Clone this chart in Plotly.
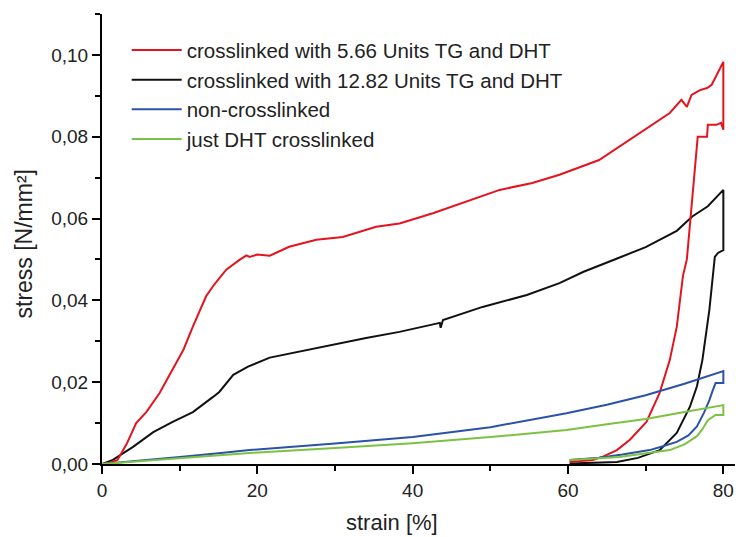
import plotly.graph_objects as go

# ---- data ----
red_x = [0, 1.0, 2.0, 3.2, 4.4, 5.7, 7.4, 9.1, 10.5, 11.7, 13.4, 14.5, 16.0, 17.7, 18.6, 19.0, 20.0, 21.6, 24.1, 27.6, 31.0,
         35.3, 38.3, 42.6, 46.9, 51.2, 55.4, 58.9, 64.0, 68.3, 70.5, 73.1, 74.6, 75.3, 75.9, 77.0, 77.9, 78.5, 80.0,
         80.0, 79.7, 79.1, 78.0, 77.9, 76.7, 76.0, 75.3, 74.8, 74.0, 73.1, 71.8, 70.1, 68.0, 66.3, 64.5, 63.2, 61.0, 60.2]
red_y = [0, 0.0003, 0.001, 0.005, 0.010, 0.0127, 0.0173, 0.023, 0.028, 0.0336, 0.041, 0.044, 0.0475, 0.0499, 0.051, 0.0506, 0.0512, 0.0509, 0.0531, 0.0548, 0.0555,
         0.058, 0.0588, 0.0613, 0.0641, 0.067, 0.0687, 0.0707, 0.0743, 0.0797, 0.0825, 0.0858, 0.089, 0.0873, 0.0902, 0.0914, 0.0919, 0.0927, 0.0983,
         0.0817, 0.0834, 0.0829, 0.0829, 0.080, 0.080, 0.065, 0.050, 0.046, 0.0335, 0.0254, 0.0174, 0.0103, 0.006, 0.0034, 0.0018, 0.001, 0.0006, 0.0005]

black_x = [0, 1.4, 4.0, 6.6, 9.1, 11.7, 14.3, 15.1, 16.9, 18.8, 21.6, 27.6, 34.0, 38.3, 43.5, 43.6, 43.9, 49.0, 54.7, 58.9,
           62.0, 66.0, 70.0, 74.0, 76.0, 78.0, 80.0,
           80.0, 79.3, 78.9, 78.6, 78.2, 77.3, 76.6, 75.7, 74.0, 71.8, 69.0, 66.3, 63.0, 60.2]
black_y = [0, 0.001, 0.0042, 0.0078, 0.0103, 0.0127, 0.0164, 0.0176, 0.0218, 0.0238, 0.026, 0.0284, 0.0308, 0.0323, 0.0345, 0.0333, 0.0352, 0.0384, 0.0413, 0.0442,
           0.047, 0.050, 0.053, 0.057, 0.0605, 0.063, 0.067,
           0.0523, 0.0516, 0.0506, 0.045, 0.0377, 0.0254, 0.019, 0.014, 0.0076, 0.0034, 0.0015, 0.0005, 0.0002, 0.0001]

blue_x = [0, 5, 10, 15, 19, 30, 40, 50, 59.8, 65, 70, 75, 80,
          80, 79.0, 78.6, 78.2, 77.5, 76.6, 75.5, 74.0, 72.0, 70.5, 67.0, 64.0, 60.2]
blue_y = [0, 0.0008, 0.0017, 0.0026, 0.0034, 0.005, 0.0066, 0.009, 0.0124, 0.0145, 0.0168, 0.0196, 0.0227,
          0.0198, 0.0198, 0.0178, 0.0156, 0.0125, 0.0092, 0.0070, 0.0054, 0.0042, 0.0034, 0.0023, 0.0015, 0.001]

green_x = [0, 5, 10, 15, 19, 30, 40, 50, 59.8, 65, 70, 75, 80,
           80, 79.0, 78.0, 77.3, 76.6, 75.0, 73.1, 70.0, 66.6, 60.2]
green_y = [0, 0.0007, 0.0014, 0.002, 0.0027, 0.0039, 0.0051, 0.0066, 0.0083, 0.0097, 0.011, 0.0127, 0.0144,
           0.012, 0.012, 0.0107, 0.0085, 0.0068, 0.0048, 0.0034, 0.0025, 0.0017, 0.001]

names = ["crosslinked with 5.66 Units TG and DHT",
         "crosslinked with 12.82 Units TG and DHT",
         "non-crosslinked",
         "just DHT crosslinked"]
colors = ["#e3141e", "#111111", "#2b52a8", "#7cc242"]

x_ticks = [0, 20, 40, 60, 80]
y_ticks = [0.00, 0.02, 0.04, 0.06, 0.08, 0.10]

TXT = "#222222"
FONT = "Liberation Sans, Arial, sans-serif"

fig = go.Figure()
series = [(black_x, black_y, 1), (red_x, red_y, 0), (blue_x, blue_y, 2), (green_x, green_y, 3)]
for xs, ys, i in series:
    fig.add_trace(go.Scatter(x=xs, y=ys, mode="lines", name=names[i], legendrank=i + 1,
                             line=dict(color=colors[i], width=2), cliponaxis=False))

fig.update_layout(
    width=736, height=537,
    margin=dict(l=102, r=1, t=14, b=73),
    paper_bgcolor="white", plot_bgcolor="white",
    separators=", ",
    font=dict(family=FONT, color=TXT),
    showlegend=True,
    legend=dict(x=0.039, y=0.964, xanchor="left", yanchor="top", bgcolor="rgba(0,0,0,0)",
                font=dict(size=20.5, color=TXT, family=FONT), itemwidth=50, tracegroupgap=0),
    xaxis=dict(range=[0, 81.5], tickvals=x_ticks, ticks="outside", ticklen=8, tickwidth=2,
               tickcolor="black", showline=True, linecolor="black", linewidth=2,
               showgrid=False, zeroline=False, tickfont=dict(size=19, color=TXT),
               minor=dict(dtick=10, tick0=0, ticks="outside", ticklen=5, tickwidth=2, tickcolor="black", showgrid=False)),
    yaxis=dict(range=[0, 0.110], tickvals=y_ticks, tickformat=".2f", ticks="outside", ticklen=8, tickwidth=2,
               tickcolor="black", showline=True, linecolor="black", linewidth=2,
               showgrid=False, zeroline=False, tickfont=dict(size=19, color=TXT),
               minor=dict(dtick=0.01, tick0=0, ticks="outside", ticklen=5, tickwidth=2, tickcolor="black", showgrid=False)),
    annotations=[
        dict(text="strain [%]", x=37.4, xref="x", y=-0.131, yref="paper", showarrow=False,
             xanchor="center", yanchor="middle", font=dict(size=22, color=TXT, family=FONT)),
        dict(text="stress [N/mm²]", x=-0.1248, xref="paper", y=0.49, yref="paper", showarrow=False,
             textangle=-90, xanchor="center", yanchor="middle", font=dict(size=23, color=TXT, family=FONT)),
    ],
)

fig.write_html("out.html")
